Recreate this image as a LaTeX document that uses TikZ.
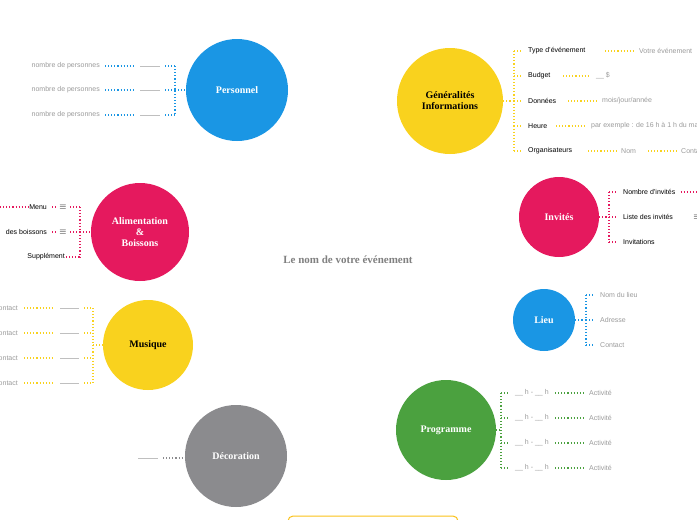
\documentclass[tikz,border=0pt]{standalone}
\usepackage{fontspec}
\setmainfont{Liberation Sans}
\newfontfamily\titlefont{Liberation Serif}
\definecolor{cblue}{HTML}{1A96E4}
\definecolor{cyel}{HTML}{F9D21E}
\definecolor{cpink}{HTML}{E5195E}
\definecolor{cgreen}{HTML}{4BA13F}
\definecolor{cgrey}{HTML}{8B8B8E}
\definecolor{ltext}{HTML}{9A9A9A}
\begin{document}
\begin{tikzpicture}[x=1pt,y=-1pt,
  topic/.style={circle,inner sep=0pt,font=\titlefont\bfseries\fontsize{10}{11}\selectfont,align=center},
  lbl/.style={inner sep=1pt,font=\fontsize{7}{8}\selectfont,text=black},
  glbl/.style={inner sep=1pt,font=\fontsize{7}{8}\selectfont,text=ltext},
  dl/.style={dotted,line width=1.1pt},
  gl/.style={draw=lightgray,line width=0.8pt}]
\useasboundingbox (0,0) rectangle (697,520);
\clip (0,0) rectangle (697,520);
% circles
\node[topic,fill=cblue,minimum size=102pt,text=white] (pers) at (237,90) {Personnel};
\node[topic,fill=cyel,minimum size=106pt] (gen) at (450,101) {Généralités\\Informations};
\node[topic,fill=cpink,minimum size=98pt,text=white] (alim) at (140,232) {Alimentation\\\&\\Boissons};
\node[topic,fill=cpink,minimum size=80pt,text=white] (inv) at (559,217) {Invités};
\node[topic,fill=cblue,minimum size=62pt,text=white] (lieu) at (544,320) {Lieu};
\node[topic,fill=cyel,minimum size=90pt] (mus) at (148,345) {Musique};
\node[topic,fill=cgrey,minimum size=102pt,text=white] (deco) at (236,456) {Décoration};
\node[topic,fill=cgreen,minimum size=100pt,text=white] (prog) at (446,430) {Programme};
\node[font=\titlefont\bfseries\fontsize{11}{12}\selectfont,text=gray] (title) at (348,260) {Le nom de votre événement};
\draw[draw=cyel!80!orange,line width=1pt,rounded corners=5pt] (288,530) rectangle (458,516);
% Personnel
\foreach \y [count=\i] in {66,90,115}{
  \node[glbl,anchor=east] (pl\i) at (101,\y) {nombre de personnes};
  \draw[dl,cblue] (pl\i.east)++(4,0) -- ++(30,0);
  \draw[gl] (140,\y) -- (160,\y);
  \draw[dl,cblue] (165,\y) -- (175,\y);}
\draw[dl,cblue] (175,66) -- (175,115) (175,90) -- (pers.west);
% Alimentation
\node[lbl,anchor=east] (am) at (48,207) {Menu};
\node[lbl,anchor=east] (ab) at (48,232) {des boissons};
\node[lbl,anchor=east] (as) at (66,257) {Supplément};
\draw[dl,cpink] (0,207) -- (am.west);
\foreach \y in {207,232}{\draw[dl,cpink] (52,\y)--(56,\y); \node[lbl,font=\fontsize{9}{9}\selectfont] at (63,\y) {$\equiv$}; \draw[dl,cpink] (70,\y)--(80,\y);}
\draw[dl,cpink] (as.east) -- (80,257);
\draw[dl,cpink] (80,207) -- (80,257) (80,232) -- (alim.west);
% Musique
\foreach \y in {308,333,358,383}{
  \node[glbl,anchor=east] at (19,\y) {Contact};
  \draw[dl,cyel] (24,\y) -- (52,\y);
  \draw[gl] (60,\y) -- (79,\y);
  \draw[dl,cyel] (84,\y) -- (93,\y);}
\draw[dl,cyel] (93,308) -- (93,383) (93,345) -- (mus.west);
% Decoration
\draw[gl] (138,458) -- (158,458);
\draw[dl,cgrey] (163,458) -- (185,458);
% Generalites
\draw[dl,cyel] (514,51) -- (514,151) (gen.east) -- (514,101);
\foreach \y in {51,76,101,126,151}{\draw[dl,cyel] (514,\y) -- (523,\y);}
\node[lbl,anchor=west] (g1) at (527,51) {Type d'événement};
\draw[dl,cyel] (605,51) -- (633,51);
\node[glbl,anchor=west] at (638,51) {Votre événement};
\node[lbl,anchor=west] (g2) at (527,76) {Budget};
\draw[dl,cyel] (563,76) -- (590,76);
\node[glbl,anchor=west] at (595,76) {\_\_ \$};
\node[lbl,anchor=west] (g3) at (527,101) {Données};
\draw[dl,cyel] (568,101) -- (596,101);
\node[glbl,anchor=west] at (601,101) {mois/jour/année};
\node[lbl,anchor=west] (g4) at (527,126) {Heure};
\draw[dl,cyel] (556,126) -- (585,126);
\node[glbl,anchor=west] at (590,126) {par exemple : de 16 h à 1 h du matin};
\node[lbl,anchor=west] (g5) at (527,151) {Organisateurs};
\draw[dl,cyel] (588,151) -- (616,151);
\node[glbl,anchor=west] at (620,151) {Nom};
\draw[dl,cyel] (648,151) -- (676,151);
\node[glbl,anchor=west] at (680,151) {Contact};
% Invites
\draw[dl,cpink] (609,192) -- (609,242) (inv.east) -- (609,217);
\foreach \y in {192,217,242}{\draw[dl,cpink] (609,\y) -- (618,\y);}
\node[lbl,anchor=west] (i1) at (622,192) {Nombre d'invités};
\draw[dl,cpink] (i1.east)++(4,0) -- (697,192);
\node[lbl,anchor=west] (i2) at (622,217) {Liste des invités};
\node[lbl,font=\fontsize{9}{9}\selectfont] at (697,217) {$\equiv$};
\node[lbl,anchor=west] (i3) at (622,242) {Invitations};
% Lieu
\draw[dl,cblue] (586,295) -- (586,345) (lieu.east) -- (586,320);
\foreach \y in {295,320,345}{\draw[dl,cblue] (586,\y) -- (595,\y);}
\node[glbl,anchor=west] at (599,295) {Nom du lieu};
\node[glbl,anchor=west] at (599,320) {Adresse};
\node[glbl,anchor=west] at (599,345) {Contact};
% Programme
\draw[dl,cgreen] (501,393) -- (501,468) (prog.east) -- (501,430);
\foreach \y in {393,418,443,468}{
  \draw[dl,cgreen] (501,\y) -- (510,\y);
  \node[glbl,anchor=west] at (514,\y) {\_\_ h - \_\_ h};
  \draw[dl,cgreen] (555,\y) -- (585,\y);
  \node[glbl,anchor=west] at (588,\y) {Activité};}
\end{tikzpicture}
\end{document}
